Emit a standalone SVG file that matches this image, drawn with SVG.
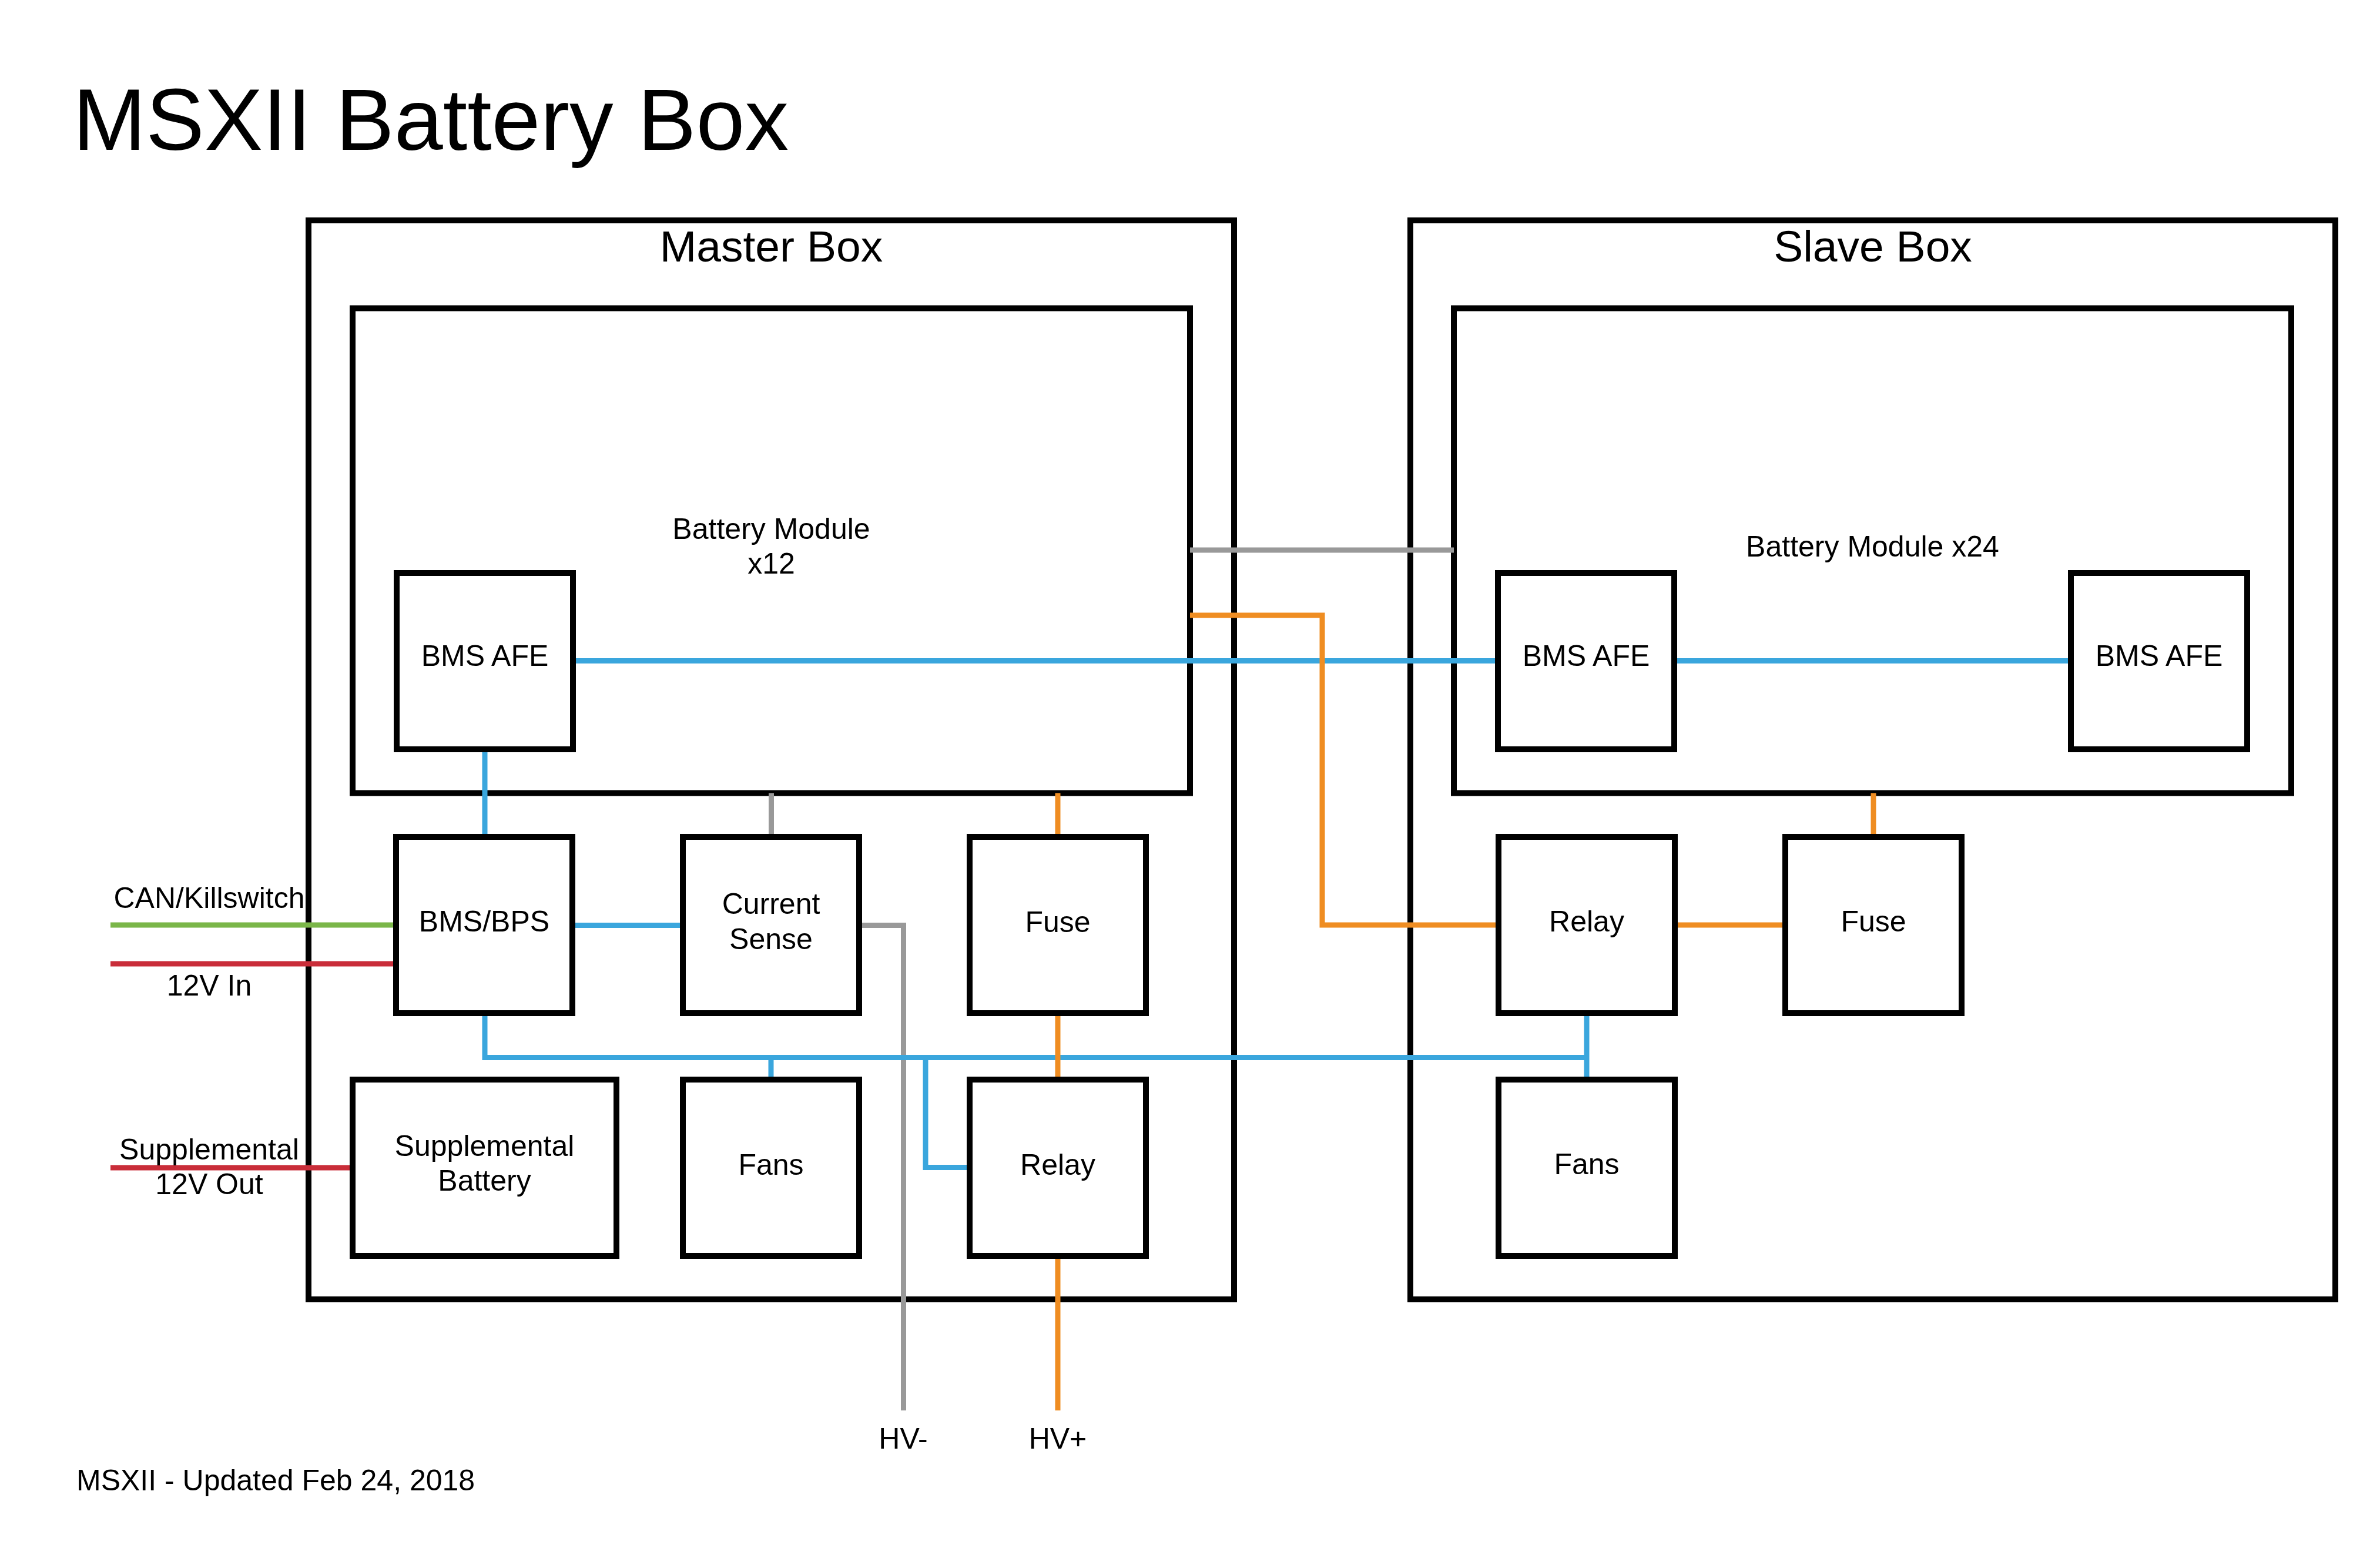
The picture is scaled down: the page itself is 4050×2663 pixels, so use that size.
<svg xmlns="http://www.w3.org/2000/svg" width="4050" height="2663" viewBox="0 0 4050 2663">
<style>
text{font-family:"Liberation Sans",Arial,sans-serif;fill:#000}
.t{font-size:50px;text-anchor:middle}
.h{font-size:75px;text-anchor:middle}
.box{fill:#fff;stroke:#000;stroke-width:10}
.cont{fill:none;stroke:#000;stroke-width:10}
.c{fill:none;stroke-width:9;stroke-linejoin:miter}
.blue{stroke:#3aa6dd}.gray{stroke:#999999}.orange{stroke:#ef8d22}.green{stroke:#7ab648}.red{stroke:#c92d39}
</style>
<rect width="4050" height="2663" fill="#fff"/>
<text x="124" y="255" style="font-size:148px" textLength="1218" lengthAdjust="spacingAndGlyphs">MSXII Battery Box</text>
<text x="130" y="2536" style="font-size:50px">MSXII - Updated Feb 24, 2018</text>

<g id="master-box"><rect class="cont" x="525" y="375" width="1575" height="1836"/><text class="h" x="1312.5" y="445">Master Box</text></g>
<g id="master-module"><rect class="cont" x="600" y="524.5" width="1425" height="825"/><text class="t" x="1312.5" y="917">Battery Module</text><text class="t" x="1312.5" y="976">x12</text></g>
<g id="slave-box"><rect class="cont" x="2400" y="375" width="1574" height="1836"/><text class="h" x="3187" y="445">Slave Box</text></g>
<g id="slave-module"><rect class="cont" x="2474" y="524.5" width="1425" height="825"/><text class="t" x="3186.5" y="947">Battery Module x24</text></g>

<g id="connectors">
<path class="c gray" d="M2025 936H2474"/>
<path class="c gray" d="M1312.5 1349.5V1424"/>
<path class="c gray" d="M1462 1574.5H1537.5V2400"/>
<path class="c blue" d="M975 1124.5H2549"/>
<path class="c blue" d="M2849 1124.5H3524"/>
<path class="c blue" d="M825 1275V1424"/>
<path class="c blue" d="M974 1574.5H1162"/>
<path class="c blue" d="M825 1724V1799.5H2700"/>
<path class="c blue" d="M2700 1724V1837"/>
<path class="c blue" d="M1312 1799.5V1837"/>
<path class="c blue" d="M1575 1799.5V1986.5H1650"/>
<path class="c orange" d="M2025 1047H2250V1574H2550"/>
<path class="c orange" d="M1800 1349.5V1424"/>
<path class="c orange" d="M1800 1724V1837"/>
<path class="c orange" d="M1800 2137V2400"/>
<path class="c orange" d="M2850 1574H3038"/>
<path class="c orange" d="M3188 1349.5V1424"/>
<path class="c green" d="M188 1574H674"/>
<path class="c red" d="M188 1640H674"/>
<path class="c red" d="M188 1987H600"/>
</g>

<g id="master-bms-afe"><rect class="box" x="675" y="975" width="300" height="300"/><text class="t" x="825" y="1133">BMS AFE</text></g>
<g id="bms-bps"><rect class="box" x="674" y="1424" width="300" height="300"/><text class="t" x="824" y="1585">BMS/BPS</text></g>
<g id="current-sense"><rect class="box" x="1162" y="1424" width="300" height="300"/><text class="t" x="1312" y="1555">Current</text><text class="t" x="1312" y="1615">Sense</text></g>
<g id="master-fuse"><rect class="box" x="1650" y="1424" width="300" height="300"/><text class="t" x="1800" y="1586">Fuse</text></g>
<g id="supplemental-battery"><rect class="box" x="600" y="1837" width="449" height="300"/><text class="t" x="824.5" y="1967">Supplemental</text><text class="t" x="824.5" y="2026">Battery</text></g>
<g id="master-fans"><rect class="box" x="1162" y="1837" width="300" height="300"/><text class="t" x="1312" y="1999">Fans</text></g>
<g id="master-relay"><rect class="box" x="1650" y="1837" width="300" height="300"/><text class="t" x="1800" y="1999">Relay</text></g>
<g id="slave-bms-afe-1"><rect class="box" x="2549" y="975" width="300" height="300"/><text class="t" x="2699" y="1133">BMS AFE</text></g>
<g id="slave-bms-afe-2"><rect class="box" x="3524" y="975" width="300" height="300"/><text class="t" x="3674" y="1133">BMS AFE</text></g>
<g id="slave-relay"><rect class="box" x="2550" y="1424" width="300" height="300"/><text class="t" x="2700" y="1585">Relay</text></g>
<g id="slave-fuse"><rect class="box" x="3038" y="1424" width="300" height="300"/><text class="t" x="3188" y="1585">Fuse</text></g>
<g id="slave-fans"><rect class="box" x="2550" y="1837" width="300" height="300"/><text class="t" x="2700" y="1998">Fans</text></g>

<g id="labels">
<text class="t" x="356" y="1545">CAN/Killswitch</text>
<text class="t" x="356" y="1694">12V In</text>
<text class="t" x="356" y="1973">Supplemental</text>
<text class="t" x="356" y="2032">12V Out</text>
<text class="t" x="1537" y="2465">HV-</text>
<text class="t" x="1800" y="2465">HV+</text>
</g>
</svg>
